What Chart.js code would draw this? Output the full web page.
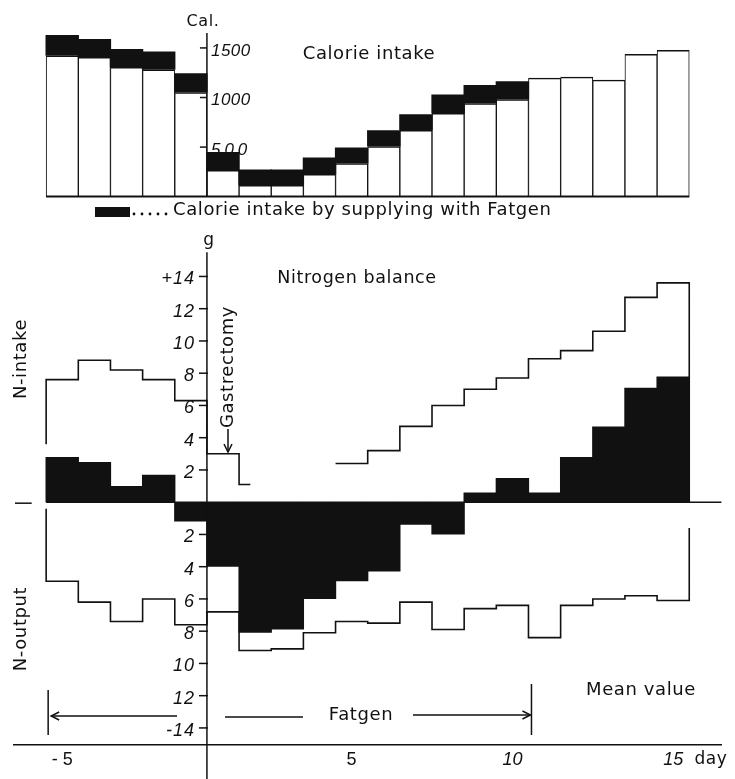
<!DOCTYPE html>
<html>
<head>
<meta charset="utf-8">
<script src="https://cdn.jsdelivr.net/npm/chart.js@4.4.1/dist/chart.umd.min.js"></script>
<style>
    html, body { margin: 0; padding: 0; background: #fff; }
    #wrap { width: 735px; height: 779px; position: relative; }
</style>
</head>
<body>
<div id="wrap"><canvas id="chart"></canvas></div>
<script>
// Days around gastrectomy (there is no day 0)
const days = [-5, -4, -3, -2, -1, 1, 2, 3, 4, 5, 6, 7, 8, 9, 10, 11, 12, 13, 14, 15];

// Calorie intake (Cal.) - white part of the bar
const calorieBase = [1420, 1405, 1305, 1280, 1050, 265, 115, 115, 225, 335, 505, 670, 840, 940, 980, 1195, 1205, 1175, 1435, 1475];
// Calorie intake incl. Fatgen - top of the black part (null = no Fatgen)
const calorieWithFatgen = [1630, 1590, 1490, 1465, 1245, 450, 275, 275, 395, 495, 670, 830, 1030, 1125, 1165, null, null, null, null, null];
const calTicks = [500, 1000, 1500];
const calTickLabels = ['500', '1000', '1500'];

// Nitrogen balance, g per day
const nIntake = [7.6, 8.8, 8.2, 7.6, 6.3, 3.0, 1.1, null, null, 2.4, 3.2, 4.7, 6.0, 7.0, 7.7, 8.9, 9.4, 10.6, 12.7, 13.6];
const nOutput = [-4.9, -6.2, -7.4, -6.0, -7.6, -6.8, -9.2, -9.1, -8.1, -7.4, -7.5, -6.2, -7.9, -6.6, -6.4, -8.4, -6.4, -6.0, -5.8, -6.1];
const nBalance = [2.8, 2.5, 1.0, 1.7, -1.2, -4.0, -8.1, -7.9, -6.0, -4.9, -4.3, -1.4, -2.0, 0.6, 1.5, 0.6, 2.8, 4.7, 7.1, 7.8];
const nTicks = [14, 12, 10, 8, 6, 4, 2, -2, -4, -6, -8, -10, -12, -14];
const nTickLabels = ['+14', '12', '10', '8', '6', '4', '2', '2', '4', '6', '8', '10', '12', '-14'];

// outline ends: where the step lines stop at the first / last day
const intakeEnds = [3.6, 0];
const outputEnds = [-0.4, -1.6];
// intake on day 2 is only drawn for part of the day
const intakePartDays = { 2: 0.35 };

const dayTicks = [-5, 5, 10, 15];
const dayTickLabels = ['- 5', '5', '10', '15'];
const fatgenSpan = [-5, 10];

const ink = '#111';
const sans = '"DejaVu Sans", sans-serif';
const numFont = '"Liberation Sans", Arial, sans-serif';

// pixel layout of the two panels inside the chart area (top = 0, bottom = 746)
const AREA_BOTTOM = 746;
const CAL_ZERO = 197, CAL_PX = 149 / 1500;
const N_ZERO = 503, N_PX = 16.15;

function dayStart(d) {
    return d < 0 ? d : d - 1;
}

function stepPoints(values, ends, partDays) {
    const pts = [{ x: dayStart(days[0]), y: ends[0] }];
    values.forEach((v, i) => {
        const x0 = dayStart(days[i]);
        pts.push({ x: x0, y: v });
        const runEnds = i === values.length - 1 || values[i + 1] === null;
        if (v !== null && runEnds) {
            pts.push({ x: x0 + (partDays[days[i]] || 1), y: v });
        }
    });
    pts.push({ x: dayStart(days[days.length - 1]) + 1, y: ends[1] });
    return pts;
}

const baseBars = days.map((d, i) => ({ x: dayStart(d) + 0.5, y: calorieBase[i] }));
const fatgenBars = days
    .map((d, i) => ({ x: dayStart(d) + 0.5, y: [calorieBase[i], calorieWithFatgen[i]] }))
    .filter((p, i) => calorieWithFatgen[i] !== null);
const balanceBars = days.map((d, i) => ({ x: dayStart(d) + 0.5, y: nBalance[i] }));

function line(ctx, x1, y1, x2, y2) {
    ctx.beginPath();
    ctx.moveTo(x1, y1);
    ctx.lineTo(x2, y2);
    ctx.stroke();
}

function arrowHead(ctx, x, y, dx, dy) {
    // open arrow head pointing along (dx, dy)
    const len = 8, wide = 4;
    ctx.beginPath();
    ctx.moveTo(x - dx * len + dy * wide, y - dy * len - dx * wide);
    ctx.lineTo(x, y);
    ctx.lineTo(x - dx * len - dy * wide, y - dy * len + dx * wide);
    ctx.stroke();
}

function text(ctx, str, x, y, font, align, rot) {
    ctx.save();
    ctx.translate(x, y);
    if (rot) ctx.rotate(rot);
    ctx.font = font;
    ctx.textAlign = align || 'center';
    ctx.textBaseline = 'middle';
    ctx.fillText(str, 0, 0);
    ctx.restore();
}

const decorPlugin = {
    id: 'decor',
    afterDraw(chart) {
        const { ctx } = chart;
        const xs = chart.scales.x, yc = chart.scales.yCal, yn = chart.scales.yN;
        const x0 = xs.getPixelForValue(0);
        ctx.save();
        ctx.strokeStyle = ink;
        ctx.fillStyle = ink;
        ctx.lineWidth = 1.5;
        ctx.letterSpacing = '0.6px';

        // calorie panel axis
        line(ctx, x0, yc.getPixelForValue(1650), x0, yc.getPixelForValue(0));
        line(ctx, xs.getPixelForValue(-5), yc.getPixelForValue(0), xs.getPixelForValue(15), yc.getPixelForValue(0));
        calTicks.forEach((v, i) => {
            const y = yc.getPixelForValue(v);
            line(ctx, x0 - 7, y, x0, y);
            ctx.letterSpacing = v === 500 ? '4px' : '0.5px';
            text(ctx, calTickLabels[i], x0 + 4, y + 3, 'italic 17px ' + numFont, 'left');
        });
        ctx.letterSpacing = '0.6px';
        text(ctx, 'Cal.', x0 - 4, 22, '16px ' + sans);
        text(ctx, 'Calorie intake', 369, 54, '18px ' + sans);

        // legend for the black part
        ctx.fillRect(95, 207, 35, 10);
        for (let k = 0; k < 5; k++) {
            ctx.beginPath();
            ctx.arc(134 + k * 8, 214, 1.4, 0, Math.PI * 2);
            ctx.fill();
        }
        text(ctx, 'Calorie intake by supplying with Fatgen', 173, 210, '18px ' + sans, 'left');

        // nitrogen panel axis
        line(ctx, x0, yn.getPixelForValue(15.5), x0, chart.height);
        line(ctx, xs.getPixelForValue(-5), yn.getPixelForValue(0), xs.getPixelForValue(16), yn.getPixelForValue(0));
        line(ctx, xs.getPixelForValue(-6) + 1, yn.getPixelForValue(0) + 1, xs.getPixelForValue(-5.45), yn.getPixelForValue(0) + 1);
        nTicks.forEach((v, i) => {
            const y = yn.getPixelForValue(v);
            line(ctx, x0 - 8, y, x0 + 1, y);
            ctx.letterSpacing = '1px';
            text(ctx, nTickLabels[i], x0 - 12, y + 3, 'italic 18px ' + numFont, 'right');
        });
        ctx.letterSpacing = '0.6px';
        text(ctx, 'g', x0 + 2, 241, '17px ' + sans);
        text(ctx, 'Nitrogen balance', 357, 278, '17.5px ' + sans);
        text(ctx, 'N-intake', 21, 359, '18px ' + sans, 'center', -Math.PI / 2);
        text(ctx, 'N-output', 21, 629, '18px ' + sans, 'center', -Math.PI / 2);

        // gastrectomy marker
        text(ctx, 'Gastrectomy', 228, 367, '18px ' + sans, 'center', -Math.PI / 2);
        line(ctx, 228, 429, 228, 452);
        arrowHead(ctx, 228, 452, 0, 1);

        // Fatgen period
        const fx1 = xs.getPixelForValue(fatgenSpan[0]) + 2;
        const fx2 = xs.getPixelForValue(fatgenSpan[1]) + 3;
        const fy = 716;
        line(ctx, fx1, 690, fx1, 735);
        line(ctx, fx2, 684, fx2, 735);
        line(ctx, fx1 + 3, fy, 177, fy);
        arrowHead(ctx, fx1 + 3, fy, -1, 0);
        line(ctx, 225, fy + 1, 303, fy + 1);
        text(ctx, 'Fatgen', 361, fy - 1, '18px ' + sans);
        line(ctx, 413, fy - 1, fx2 - 1, fy - 1);
        arrowHead(ctx, fx2 - 1, fy - 1, 1, 0);

        text(ctx, 'Mean value', 641, 690, '18px ' + sans);
        text(ctx, 'day', 711, 760, '17px ' + sans);
        ctx.restore();
    }
};

new Chart(document.getElementById('chart'), {
    data: {
        datasets: [
            {
                type: 'line',
                label: 'N-intake',
                data: stepPoints(nIntake, intakeEnds, intakePartDays),
                yAxisID: 'yN',
                stepped: 'before',
                borderColor: ink,
                borderWidth: 1.6,
                pointRadius: 0,
                fill: false,
                spanGaps: false,
                order: 0
            },
            {
                type: 'line',
                label: 'N-output',
                data: stepPoints(nOutput, outputEnds, {}),
                yAxisID: 'yN',
                stepped: 'before',
                borderColor: ink,
                borderWidth: 1.6,
                pointRadius: 0,
                fill: false,
                order: 0
            },
            {
                type: 'bar',
                label: 'Nitrogen balance',
                data: balanceBars,
                yAxisID: 'yN',
                backgroundColor: ink,
                borderWidth: 0,
                grouped: false,
                barPercentage: 1.04,
                categoryPercentage: 1,
                order: 2
            },
            {
                type: 'bar',
                label: 'Calorie intake by supplying with Fatgen',
                data: fatgenBars,
                yAxisID: 'yCal',
                backgroundColor: ink,
                borderWidth: 0,
                grouped: false,
                barPercentage: 1.04,
                categoryPercentage: 1,
                order: 1
            },
            {
                type: 'bar',
                label: 'Calorie intake',
                data: baseBars,
                yAxisID: 'yCal',
                backgroundColor: '#fff',
                borderColor: ink,
                borderWidth: { top: 1.5, left: 1, right: 1, bottom: 1.5 },
                borderSkipped: false,
                grouped: false,
                barPercentage: 1,
                categoryPercentage: 1,
                order: 2
            }
        ]
    },
    options: {
        responsive: true,
        maintainAspectRatio: false,
        animation: false,
        layout: { padding: { left: 14, right: 13.6, top: 0, bottom: 4.6 } },
        plugins: {
            legend: { display: false },
            tooltip: { enabled: false }
        },
        scales: {
            x: {
                type: 'linear',
                min: -6,
                max: 16,
                offset: false,
                bounds: 'data',
                grid: { display: false, drawTicks: false, offset: false },
                border: { display: true, color: ink, width: 1.5 },
                afterBuildTicks: scale => {
                    scale.ticks = dayTicks.map(d => ({ value: dayStart(d) + 0.5 }));
                },
                ticks: {
                    autoSkip: false,
                    maxRotation: 0,
                    padding: 4,
                    color: ink,
                    font: ctx => ({
                        family: numFont,
                        size: 18,
                        style: ctx.tick && ctx.tick.value > 8 ? 'italic' : 'normal'
                    }),
                    callback: value => {
                        const i = dayTicks.findIndex(d => dayStart(d) + 0.5 === value);
                        return i >= 0 ? dayTickLabels[i] : '';
                    }
                }
            },
            yCal: {
                type: 'linear',
                display: false,
                bounds: 'data',
                min: -(AREA_BOTTOM - CAL_ZERO) / CAL_PX,
                max: CAL_ZERO / CAL_PX
            },
            yN: {
                type: 'linear',
                display: false,
                bounds: 'data',
                min: -(AREA_BOTTOM - N_ZERO) / N_PX,
                max: N_ZERO / N_PX
            }
        }
    },
    plugins: [decorPlugin]
});
</script>
</body>
</html>
